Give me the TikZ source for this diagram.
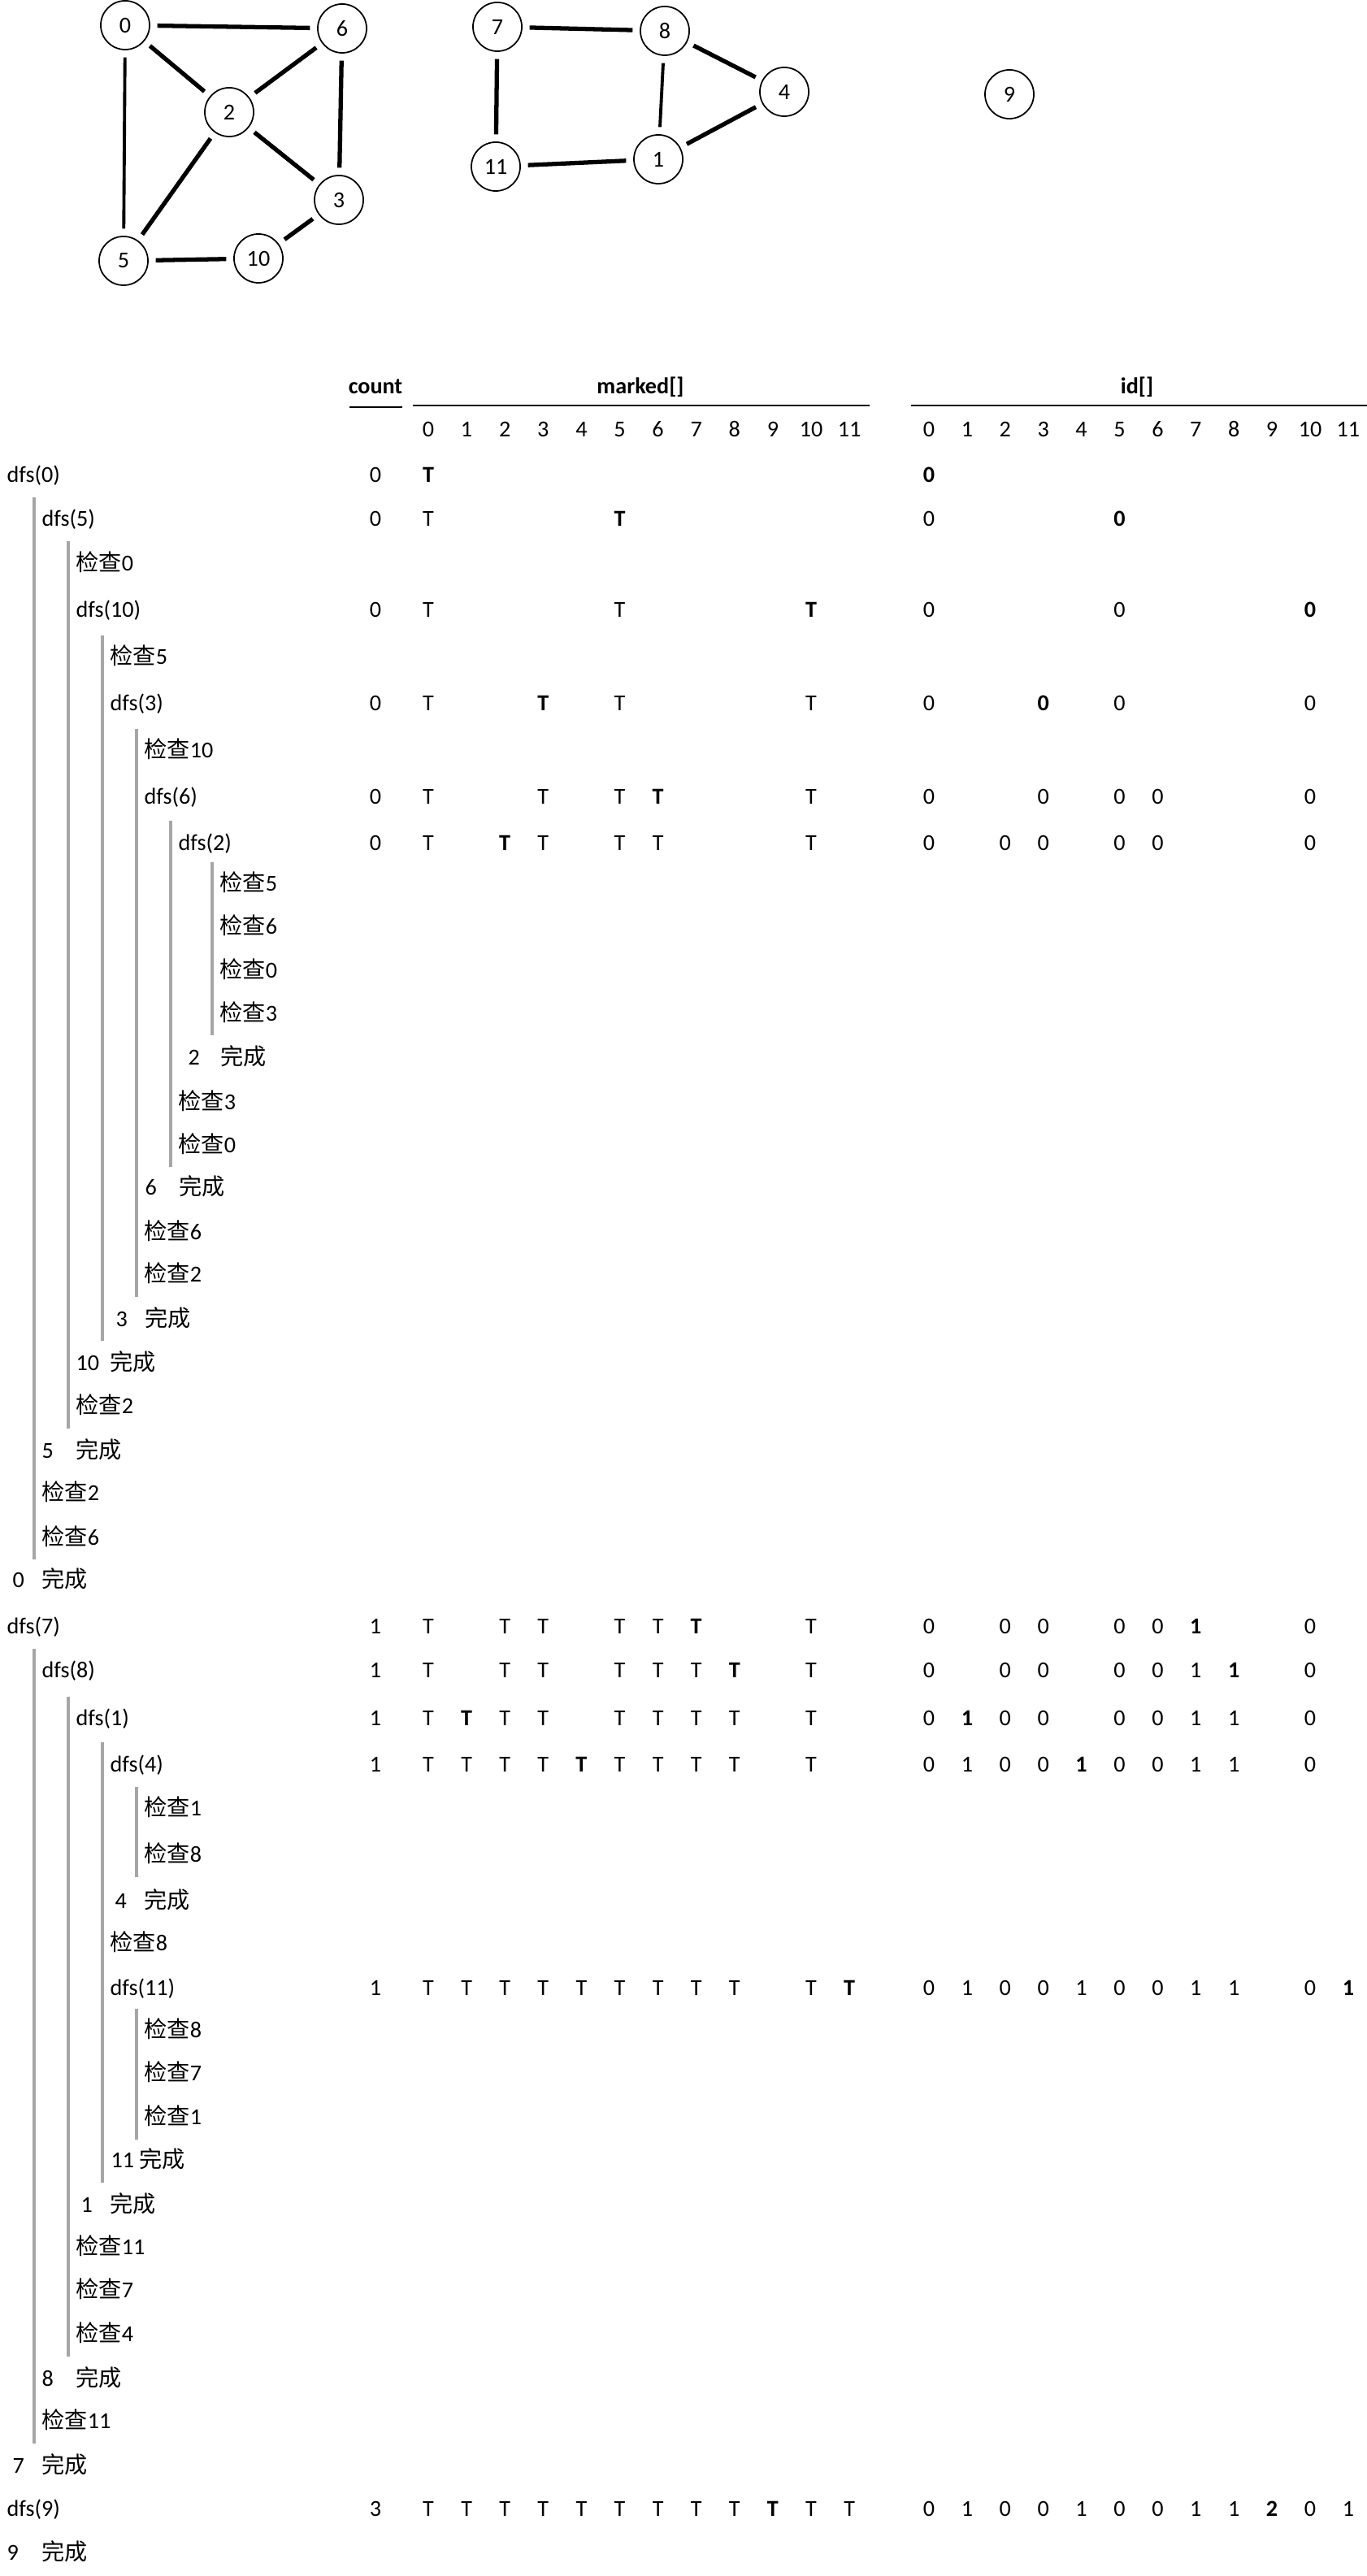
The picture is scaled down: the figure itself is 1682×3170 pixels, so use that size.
\documentclass[tikz,border=0pt]{standalone}
\usepackage{fontspec}
\setmainfont{Carlito}
\newfontfamily\cjk{Noto Sans CJK SC}

% check / done labels of the trace
\newcommand{\jc}[1]{{\cjk 检查}#1}
\newcommand{\wc}{{\cjk 完成}}
% row heights of the trace (as drawn, half scale)
\def\ry{{289,316,343,371,400,428,457,485,513,538,564,591,617,644,671,697,723,750,776,803,830,856,883,909,936,962,990,1017,1046,1074,1101,1129,1157,1183,1210,1236,1262,1289,1315,1342,1368,1394,1421,1448,1474,1501,1527,1554}}
% one row of the state table: row, count, marked cols, new vertex, id entries
\newcommand{\tabrow}[5]{%
  \node[cell] (cnt#1) at (462,{\ry[#1]*2.0216+9}) {#2};
  \foreach \c in {#3} \node[cell] (m#1-\c) at ({527+47.1*\c},{\ry[#1]*2.0216+9}) {T};
  \node[cellb] (m#1-#4) at ({527+47.1*#4},{\ry[#1]*2.0216+9}) {T};
  \foreach \c/\v/\s in {#5} \node[\s] (i#1-\c) at ({1143+46.9*\c},{\ry[#1]*2.0216+9}) {\v};
}

\begin{document}
\begin{tikzpicture}[x=0.01cm,y=-0.01cm,
  every node/.style={font=\fontsize{8}{10}\selectfont,inner sep=0pt},
  vtx/.style={circle,draw,line width=0.5pt,minimum size=0.6cm},
  edge/.style={line width=1.5pt,shorten <=2.5pt,shorten >=2.5pt},
  thinedge/.style={edge,line width=1.1pt},
  call/.style={anchor=base west},
  cell/.style={anchor=base},
  cellb/.style={anchor=base,font=\fontsize{8}{10}\selectfont\bfseries},
  rule/.style={line width=0.7pt},
  callbar/.style={draw=black!35,line width=1.15pt}]
\useasboundingbox (0,0) rectangle (1682,3170);
% the graph
\node[vtx] (v0) at (154,31) {0};
\node[vtx] (v6) at (421,35) {6};
\node[vtx] (v2) at (282,138) {2};
\node[vtx] (v3) at (417,246) {3};
\node[vtx] (v5) at (152,321) {5};
\node[vtx] (v10) at (318,318) {10};
\node[vtx] (v7) at (612,33) {7};
\node[vtx] (v8) at (818,38) {8};
\node[vtx] (v4) at (965,113) {4};
\node[vtx] (v11) at (610,205) {11};
\node[vtx] (v1) at (810,196) {1};
\node[vtx] (v9) at (1242,116) {9};
\draw[edge] (v0) -- (v6);
\draw[edge] (v0) -- (v2);
\draw[thinedge] (v0) -- (v5);
\draw[edge] (v2) -- (v6);
\draw[edge] (v6) -- (v3);
\draw[edge] (v2) -- (v3);
\draw[edge] (v2) -- (v5);
\draw[edge] (v5) -- (v10);
\draw[edge] (v10) -- (v3);
\draw[edge] (v7) -- (v8);
\draw[edge] (v7) -- (v11);
\draw[edge] (v8) -- (v4);
\draw[thinedge] (v8) -- (v1);
\draw[edge] (v4) -- (v1);
\draw[edge] (v11) -- (v1);
% table head
\node[cellb] (hcount) at (462,485) {count};
\node[cellb] (hmarked) at (788,485) {marked[]};
\node[cellb] (hid) at (1399,485) {id[]};
\draw[rule] (430,501) -- (495,501);
\draw[rule] (508,499) -- (1070,499);
\draw[rule] (1121,499) -- (1682,499);
\foreach \c in {0,...,11} {
  \node[cell] (mi\c) at ({527+47.1*\c},537) {\c};
  \node[cell] (ii\c) at ({1143+46.9*\c},537) {\c};
}
% call trace
\foreach \r/\x/\t in {0/8/dfs(0), 1/51/dfs(5), 2/93/\jc{0}, 3/93/dfs(10),
  4/135/\jc{5}, 5/135/dfs(3), 6/177/\jc{10}, 7/177/dfs(6), 8/219/dfs(2),
  9/270/\jc{5}, 10/270/\jc{6}, 11/270/\jc{0}, 12/270/\jc{3},
  14/219/\jc{3}, 15/219/\jc{0}, 17/177/\jc{6}, 18/177/\jc{2},
  21/93/\jc{2}, 23/51/\jc{2}, 24/51/\jc{6},
  26/8/dfs(7), 27/51/dfs(8), 28/93/dfs(1), 29/135/dfs(4),
  30/177/\jc{1}, 31/177/\jc{8}, 33/135/\jc{8}, 34/135/dfs(11),
  35/177/\jc{8}, 36/177/\jc{7}, 37/177/\jc{1},
  40/93/\jc{11}, 41/93/\jc{7}, 42/93/\jc{4}, 44/51/\jc{11}, 46/8/dfs(9)}
  \node[call] (c\r) at (\x,{\ry[\r]*2.0216+9}) {\t};
\foreach \r/\x/\n/\d in {13/231/2/271, 16/178/6/220, 19/142/3/178,
  20/93/10/135, 22/51/5/93, 25/15/0/51, 32/141/4/177, 38/136/11/171,
  39/99/1/135, 43/51/8/93, 45/15/7/51, 47/8/9/51} {
  \node[call] (n\r) at (\x,{\ry[\r]*2.0216+9}) {\n};
  \node[call] (d\r) at (\d,{\ry[\r]*2.0216+9}) {\wc};
}
% nesting bars: x / first row / last row
\foreach \x/\a/\b in {42/1/24, 84/2/21, 126/4/19, 168/6/18, 210/8/15, 261/9/12,
  42/27/44, 84/28/42, 126/29/38, 168/30/31, 168/35/37}
  \draw[callbar] (\x,{\ry[\a]*2.0216-27.1}) -- (\x,{\ry[\b]*2.0216+27.1});
% state after each call
\node[cell] (cnt0) at (462,{\ry[0]*2.0216+9}) {0};
\node[cellb] (m0-0) at (527,{\ry[0]*2.0216+9}) {T};
\node[cellb] (i0-0) at (1143,{\ry[0]*2.0216+9}) {0};
\tabrow{1}{0}{0}{5}{0/0/cell,5/0/cellb}
\tabrow{3}{0}{0,5}{10}{0/0/cell,5/0/cell,10/0/cellb}
\tabrow{5}{0}{0,5,10}{3}{0/0/cell,3/0/cellb,5/0/cell,10/0/cell}
\tabrow{7}{0}{0,3,5,10}{6}{0/0/cell,3/0/cell,5/0/cell,6/0/cell,10/0/cell}
\tabrow{8}{0}{0,3,5,6,10}{2}{0/0/cell,2/0/cell,3/0/cell,5/0/cell,6/0/cell,10/0/cell}
\tabrow{26}{1}{0,2,3,5,6,10}{7}{0/0/cell,2/0/cell,3/0/cell,5/0/cell,6/0/cell,7/1/cellb,10/0/cell}
\tabrow{27}{1}{0,2,3,5,6,7,10}{8}{0/0/cell,2/0/cell,3/0/cell,5/0/cell,6/0/cell,7/1/cell,8/1/cellb,10/0/cell}
\tabrow{28}{1}{0,2,3,5,6,7,8,10}{1}{0/0/cell,1/1/cellb,2/0/cell,3/0/cell,5/0/cell,6/0/cell,7/1/cell,8/1/cell,10/0/cell}
\tabrow{29}{1}{0,1,2,3,5,6,7,8,10}{4}{0/0/cell,1/1/cell,2/0/cell,3/0/cell,4/1/cellb,5/0/cell,6/0/cell,7/1/cell,8/1/cell,10/0/cell}
\tabrow{34}{1}{0,1,2,3,4,5,6,7,8,10}{11}{0/0/cell,1/1/cell,2/0/cell,3/0/cell,4/1/cell,5/0/cell,6/0/cell,7/1/cell,8/1/cell,10/0/cell,11/1/cellb}
\tabrow{46}{3}{0,1,2,3,4,5,6,7,8,10,11}{9}{0/0/cell,1/1/cell,2/0/cell,3/0/cell,4/1/cell,5/0/cell,6/0/cell,7/1/cell,8/1/cell,9/2/cellb,10/0/cell,11/1/cell}
\end{tikzpicture}
\end{document}
